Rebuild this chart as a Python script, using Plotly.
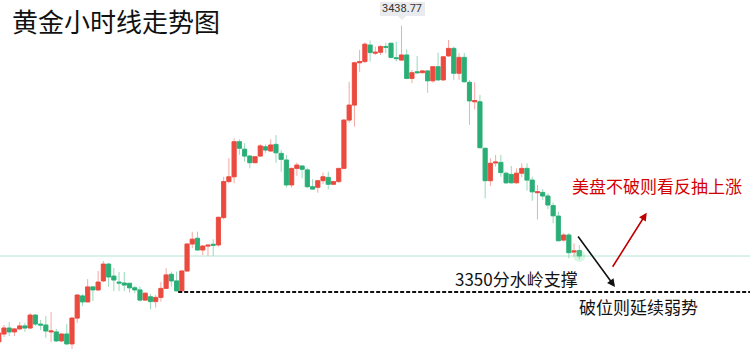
import plotly.graph_objects as go

# ---- data (hourly gold candles) ----
opens = [3333.4, 3336.0, 3338.0, 3336.7, 3337.7, 3338.7, 3338.0, 3342.3, 3339.3, 3339.0,
         3336.7, 3336.7, 3333.7, 3336.0, 3332.7, 3341.3, 3348.7, 3346.7, 3351.7, 3350.7,
         3353.7, 3359.3, 3355.3, 3353.3, 3353.0, 3352.9, 3351.4, 3350.7, 3347.3, 3348.4,
         3346.8, 3348.2, 3351.2, 3355.9, 3353.7, 3350.4, 3357.0, 3366.0, 3367.9, 3364.0,
         3365.3, 3365.9, 3365.7, 3374.8, 3386.8, 3388.4, 3400.1, 3397.6, 3395.3, 3393.1,
         3395.3, 3398.4, 3397.0, 3399.2, 3396.2, 3394.0, 3385.7, 3391.2, 3392.0, 3390.7,
         3385.1, 3384.9, 3387.1, 3388.2, 3385.9, 3386.8, 3391.2, 3407.3, 3412.3, 3426.4,
         3426.8, 3432.3, 3429.6, 3429.9, 3431.8, 3432.9, 3428.1, 3427.3, 3429.0, 3421.2,
         3423.4, 3423.1, 3423.7, 3420.4, 3425.1, 3420.7, 3428.7, 3431.2, 3422.9, 3428.2,
         3419.9, 3413.4, 3413.4, 3397.9, 3387.1, 3393.0, 3393.2, 3389.6, 3389.2, 3386.4,
         3389.6, 3391.2, 3387.3, 3383.1, 3383.2, 3382.0, 3378.8, 3375.3, 3367.3, 3369.0,
         3363.3, 3363.8]
highs = [3337.3, 3339.0, 3340.0, 3338.0, 3340.0, 3339.7, 3343.0, 3342.7, 3340.7, 3342.0,
         3343.3, 3337.7, 3336.3, 3339.3, 3341.7, 3349.3, 3349.3, 3354.3, 3352.0, 3357.0,
         3360.3, 3359.7, 3358.0, 3356.7, 3356.7, 3353.0, 3352.1, 3351.8, 3349.8, 3349.3,
         3349.0, 3353.4, 3357.9, 3356.8, 3356.8, 3357.3, 3366.2, 3370.1, 3370.1, 3365.7,
         3365.6, 3367.6, 3375.1, 3388.4, 3394.6, 3401.2, 3400.9, 3399.6, 3395.7, 3395.3,
         3399.3, 3399.2, 3400.9, 3402.3, 3397.3, 3395.7, 3391.4, 3393.1, 3392.0, 3391.4,
         3387.6, 3387.3, 3389.8, 3390.1, 3387.0, 3391.2, 3407.6, 3420.1, 3426.8, 3430.7,
         3433.2, 3433.8, 3431.8, 3432.3, 3433.1, 3433.1, 3433.4, 3438.77, 3430.9, 3424.0,
         3428.7, 3424.0, 3423.8, 3425.3, 3429.8, 3428.7, 3434.0, 3431.8, 3429.6, 3429.7,
         3420.7, 3419.9, 3415.7, 3397.9, 3394.6, 3395.7, 3395.7, 3390.1, 3392.0, 3391.2,
         3392.9, 3392.9, 3388.4, 3385.7, 3384.3, 3382.9, 3379.8, 3376.8, 3369.6, 3369.6,
         3366.2, 3365.7]
lows = [3333.0, 3335.0, 3335.3, 3335.3, 3337.3, 3336.7, 3337.7, 3338.7, 3337.3, 3334.7,
        3333.3, 3333.3, 3333.3, 3332.3, 3331.0, 3339.7, 3345.3, 3346.7, 3347.0, 3350.3,
        3353.3, 3351.7, 3350.3, 3350.3, 3350.3, 3349.8, 3349.6, 3346.8, 3347.0, 3344.2,
        3344.8, 3346.8, 3350.9, 3351.8, 3350.1, 3349.8, 3356.8, 3364.6, 3363.8, 3362.3,
        3362.0, 3362.0, 3365.1, 3374.2, 3386.2, 3386.2, 3395.7, 3393.4, 3391.2, 3392.9,
        3395.1, 3396.4, 3396.8, 3393.1, 3390.1, 3384.8, 3384.8, 3388.7, 3387.9, 3384.6,
        3384.0, 3383.1, 3386.0, 3384.2, 3385.7, 3386.4, 3390.9, 3406.4, 3405.1, 3423.4,
        3426.4, 3426.8, 3429.0, 3429.0, 3429.6, 3427.9, 3426.8, 3427.1, 3420.9, 3419.6,
        3422.9, 3423.0, 3416.4, 3419.8, 3420.4, 3420.4, 3428.4, 3420.7, 3420.7, 3419.7,
        3405.7, 3410.9, 3397.9, 3381.2, 3385.3, 3391.8, 3388.4, 3386.0, 3386.2, 3386.2,
        3388.2, 3383.8, 3380.4, 3374.2, 3380.7, 3377.6, 3372.9, 3366.8, 3366.8, 3361.2,
        3361.8, 3360.9]
closes = [3336.3, 3338.0, 3336.7, 3337.7, 3338.7, 3338.0, 3342.3, 3339.3, 3339.0, 3337.0,
          3337.0, 3333.7, 3336.0, 3332.7, 3341.3, 3349.0, 3346.7, 3351.7, 3350.7, 3353.3,
          3359.3, 3355.0, 3354.0, 3353.0, 3352.3, 3351.4, 3350.7, 3347.3, 3349.6, 3346.8,
          3348.2, 3351.2, 3355.7, 3353.7, 3350.4, 3357.0, 3366.0, 3367.6, 3364.0, 3365.3,
          3365.6, 3365.6, 3374.9, 3386.8, 3388.4, 3400.1, 3397.9, 3395.3, 3393.1, 3395.1,
          3398.7, 3397.3, 3399.0, 3396.4, 3394.2, 3385.7, 3391.2, 3392.3, 3390.9, 3385.1,
          3384.3, 3387.1, 3388.4, 3385.9, 3386.8, 3391.2, 3407.3, 3412.3, 3426.4, 3426.8,
          3432.6, 3429.8, 3429.9, 3431.8, 3431.6, 3428.2, 3427.8, 3429.0, 3421.2, 3423.1,
          3423.1, 3423.7, 3420.4, 3425.1, 3420.7, 3428.4, 3431.2, 3422.9, 3428.2, 3420.1,
          3413.7, 3413.8, 3398.1, 3387.1, 3392.9, 3393.3, 3389.8, 3386.4, 3386.4, 3389.6,
          3391.2, 3387.3, 3383.4, 3383.4, 3382.0, 3379.0, 3375.4, 3367.1, 3369.0, 3363.1,
          3363.7, 3362.0]
bars = list(range(len(opens)))
support_level = 3350
high_label = "3438.77"

title_text = "黄金小时线走势图"
note_up = "美盘不破则看反抽上涨"
note_support = "3350分水岭支撑"
note_break = "破位则延续弱势"

# ---- styling ----
W, H = 750, 355
RED, RED_W = "#eb4a3f", "#f5a8a2"
GRN, GRN_W = "#2aae76", "#97dabb"
body_hi = [max(o, c) for o, c in zip(opens, closes)]
body_lo = [min(o, c) for o, c in zip(opens, closes)]

def X(px):
    return px / W

def Y(py):
    return 1 - py / H

fig = go.Figure()
# glow on last candle (behind)
fig.add_trace(go.Scatter(
    x=[bars[-1]], y=[closes[-1]], mode="markers",
    marker=dict(size=12, color="rgba(120,225,150,0.28)", line=dict(width=0)),
    hoverinfo="skip", showlegend=False))
# wicks (light)
fig.add_trace(go.Candlestick(
    x=bars, open=opens, high=highs, low=lows, close=closes,
    whiskerwidth=0,
    increasing=dict(line=dict(color=RED_W, width=1), fillcolor=RED_W),
    decreasing=dict(line=dict(color=GRN_W, width=1), fillcolor=GRN_W),
    hoverinfo="skip", showlegend=False))
# bodies (saturated)
fig.add_trace(go.Candlestick(
    x=bars, open=opens, high=body_hi, low=body_lo, close=closes,
    whiskerwidth=0,
    increasing=dict(line=dict(color=RED, width=0.8), fillcolor=RED),
    decreasing=dict(line=dict(color=GRN, width=0.8), fillcolor=GRN),
    hoverinfo="skip", showlegend=False))

x_lo, x_hi = 0.235, 143.64
y_lo, y_hi = 3329.0, 3447.33

shapes = [
    # current price line
    dict(type="line", xref="paper", yref="y", x0=0, x1=1,
         y0=closes[-1], y1=closes[-1], line=dict(color="#b3e6d4", width=1), layer="below"),
    # support dashed line
    dict(type="line", xref="x", yref="y", x0=34.3, x1=x_hi,
         y0=support_level, y1=support_level, line=dict(color="#111111", width=1.8, dash="4px,2px")),
    # tooltip box
    dict(type="rect", xref="paper", yref="paper", x0=X(380), x1=X(425), y0=Y(16), y1=Y(2),
         fillcolor="#e9ebee", line=dict(width=0)),
    dict(type="path", xref="paper", yref="paper",
         path=f"M {X(398)} {Y(16)} L {X(406)} {Y(16)} L {X(402)} {Y(20)} Z",
         fillcolor="#e9ebee", line=dict(width=0)),
]

cjk = "Noto Sans CJK SC"
annotations = [
    dict(text=title_text, xref="paper", yref="paper", x=X(10), y=Y(20),
         xanchor="left", yanchor="middle", showarrow=False,
         font=dict(family=cjk, size=26, color="#111111")),
    dict(text=high_label, xref="paper", yref="paper", x=X(402.5), y=Y(9),
         xanchor="center", yanchor="middle", showarrow=False,
         font=dict(family="Roboto, Arial", size=11, color="#333333")),
    dict(text=note_up, xref="paper", yref="paper", x=X(657), y=Y(185),
         xanchor="center", yanchor="middle", showarrow=False,
         font=dict(family=cjk, size=17, color="#d40000")),
    dict(text=note_support, xref="paper", yref="paper", x=X(516), y=Y(278),
         xanchor="center", yanchor="middle", showarrow=False,
         font=dict(family=cjk, size=17, color="#111111")),
    dict(text=note_break, xref="paper", yref="paper", x=X(638), y=Y(306),
         xanchor="center", yanchor="middle", showarrow=False,
         font=dict(family=cjk, size=17, color="#111111")),
    # black arrow (down)
    dict(text="", xref="paper", yref="paper", x=X(615), y=Y(287), ax=-38, ay=-52,
         showarrow=True, arrowhead=2, arrowsize=1, arrowwidth=1.6, arrowcolor="#111111", standoff=0),
    # red arrow (up)
    dict(text="", xref="paper", yref="paper", x=X(646.7), y=Y(212.7), ax=-35, ay=55.6,
         showarrow=True, arrowhead=2, arrowsize=1, arrowwidth=1.6, arrowcolor="#c00000", standoff=0),
]

fig.update_layout(
    width=W, height=H, margin=dict(l=0, r=0, t=0, b=0),
    paper_bgcolor="white", plot_bgcolor="white",
    showlegend=False, boxgap=0.1, boxgroupgap=0.13,
    xaxis=dict(range=[x_lo, x_hi], visible=False, showgrid=False,
               rangeslider=dict(visible=False), fixedrange=True),
    yaxis=dict(range=[y_lo, y_hi], visible=False, showgrid=False, fixedrange=True),
    shapes=shapes, annotations=annotations,
)

fig.write_html("out.html", config={"displayModeBar": False})
